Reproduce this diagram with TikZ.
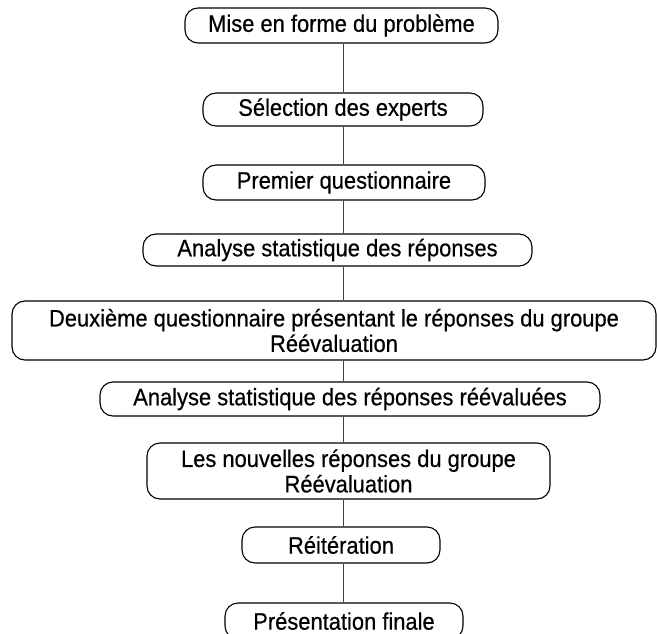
\documentclass[tikz,border=0pt]{standalone}
\usepackage{fontspec}
\setmainfont{Liberation Sans}[FakeStretch=0.92, FakeBold=0.5]
\usepackage{tikz}
\usetikzlibrary{positioning}

\begin{document}
\begin{tikzpicture}[x=1bp, y=-1bp,
        etape/.style={draw, rounded corners=13bp, line width=1.1bp, align=center,
            inner sep=0pt, font=\fontsize{23.9}{25.5}\selectfont},
        lien/.style={line width=0.8bp, draw=black!75}]
        \clip (0, 0) rectangle (657, 634);
        \coordinate (axe) at (343, 0);

        \node[etape, minimum width=313bp, minimum height=35bp] at (341.5, 25.5)  (pose)   {Mise en forme du problème};
        \node[etape, minimum width=280bp, minimum height=33bp] at (343, 109.5)   (select) {Sélection des experts};
        \node[etape, minimum width=282bp, minimum height=35bp] at (344, 182.5)   (quest)  {Premier questionnaire};
        \node[etape, minimum width=389bp, minimum height=32bp] at (337.5, 250)   (anal)   {Analyse statistique des réponses};
        \node[etape, minimum width=644bp, minimum height=59bp] at (334, 330.5)   (deux)   {Deuxième questionnaire présentant le réponses du groupe\\Réévaluation};
        \node[etape, minimum width=500bp, minimum height=34bp] at (350, 399)     (reanal) {Analyse statistique des réponses réévaluées};
        \node[etape, minimum width=403bp, minimum height=56bp] at (348.5, 471)   (nouv)   {Les nouvelles réponses du groupe\\Réévaluation};
        \node[etape, minimum width=198bp, minimum height=36bp] at (341, 545)     (reit)   {Réitération};
        \node[etape, minimum width=238bp, minimum height=36bp] at (344, 621)     (final)  {Présentation finale};

        \draw [lien] (pose.south -| axe)   -- (select.north -| axe);
        \draw [lien] (select.south -| axe) -- (quest.north -| axe);
        \draw [lien] (quest.south -| axe)  -- (anal.north -| axe);
        \draw [lien] (anal.south -| axe)   -- (deux.north -| axe);
        \draw [lien] (deux.south -| axe)   -- (reanal.north -| axe);
        \draw [lien] (reanal.south -| axe) -- (nouv.north -| axe);
        \draw [lien] (nouv.south -| axe)   -- (reit.north -| axe);
        \draw [lien] (reit.south -| axe)   -- (final.north -| axe);
    \end{tikzpicture}
\end{document}
